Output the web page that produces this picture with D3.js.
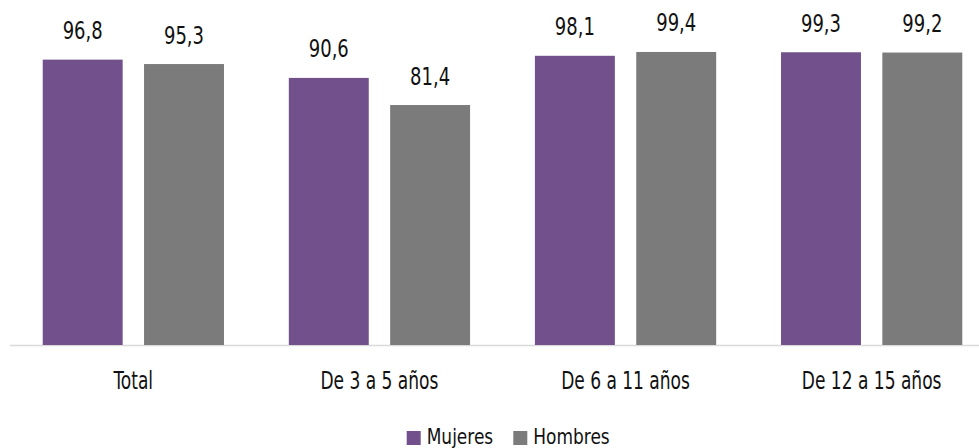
<!DOCTYPE html>
<html lang="es">
<head>
<meta charset="UTF-8">
<script src="https://d3js.org/d3.v7.min.js"></script>
<style>
  body { margin: 0; background: #fff; }
  text { font-family: "DejaVu Sans Condensed", "DejaVu Sans", sans-serif; font-stretch: condensed; fill: #111; }
</style>
</head>
<body>
<script>
// datos
const categories = ["Total", "De 3 a 5 años", "De 6 a 11 años", "De 12 a 15 años"];
const series = ["Mujeres", "Hombres"];
const mujeres = [96.8, 90.6, 98.1, 99.3];
const hombres = [95.3, 81.4, 99.4, 99.2];
const colors = ["#71508c", "#7b7b7b"];

const width = 979, height = 448;
const baseY = 345;

const svg = d3.select("body").append("svg")
    .attr("width", width)
    .attr("height", height);

const x0 = d3.scaleBand()
    .domain(categories)
    .range([10.3, 994.7]);

const x1 = d3.scaleBand()
    .domain(series)
    .range([0, x0.bandwidth()])
    .paddingInner(0.211)
    .paddingOuter(0.32);

const y = d3.scaleLinear()
    .domain([0, 100])
    .range([baseY, 50.2]);

const color = d3.scaleOrdinal().domain(series).range(colors);

const rows = categories.map((c, i) => ({
    cat: c,
    vals: [{ s: "Mujeres", v: mujeres[i] }, { s: "Hombres", v: hombres[i] }]
}));

// narrow the text a bit so it looks like the condensed font of the original
function squeeze(sel, k) {
    sel.each(function() {
        const t = d3.select(this);
        const x = +t.attr("x"), yy = +t.attr("y");
        t.attr("transform", `translate(${x},${yy}) scale(${k},1) translate(${-x},${-yy})`);
    });
}

// eje x (linea base)
svg.append("line")
    .attr("x1", 10).attr("x2", width)
    .attr("y1", baseY + 0.5).attr("y2", baseY + 0.5)
    .attr("stroke", "#d9d9d9")
    .attr("stroke-width", 1.5);

const groups = svg.selectAll(".grp").data(rows).enter().append("g")
    .attr("class", "grp")
    .attr("transform", d => `translate(${x0(d.cat)},0)`);

groups.selectAll("rect").data(d => d.vals).enter().append("rect")
    .attr("x", d => x1(d.s))
    .attr("y", d => y(d.v))
    .attr("width", x1.bandwidth())
    .attr("height", d => baseY - y(d.v))
    .attr("fill", d => color(d.s));

groups.selectAll(".val").data(d => d.vals).enter().append("text")
    .attr("class", "val")
    .attr("x", d => x1(d.s) + x1.bandwidth() / 2)
    .attr("y", d => y(d.v) - 20.5)
    .attr("text-anchor", "middle")
    .attr("font-size", "25px")
    .text(d => d3.format(".1f")(d.v).replace(".", ","))
    .call(squeeze, 0.8);

groups.append("text")
    .attr("class", "cat")
    .attr("x", x0.bandwidth() / 2)
    .attr("y", 389)
    .attr("text-anchor", "middle")
    .attr("font-size", "24px")
    .text(d => d.cat)
    .call(squeeze, 0.79);

// leyenda
const legendX = [406.7, 513.3];
const legend = svg.selectAll(".leg").data(series).enter().append("g")
    .attr("class", "leg")
    .attr("transform", (d, i) => `translate(${legendX[i]},431)`);

legend.append("rect")
    .attr("width", 14).attr("height", 14)
    .attr("fill", d => color(d));

legend.append("text")
    .attr("x", 20)
    .attr("y", 13)
    .attr("font-size", "21px")
    .text(d => d)
    .call(squeeze, 0.9);
</script>
</body>
</html>
